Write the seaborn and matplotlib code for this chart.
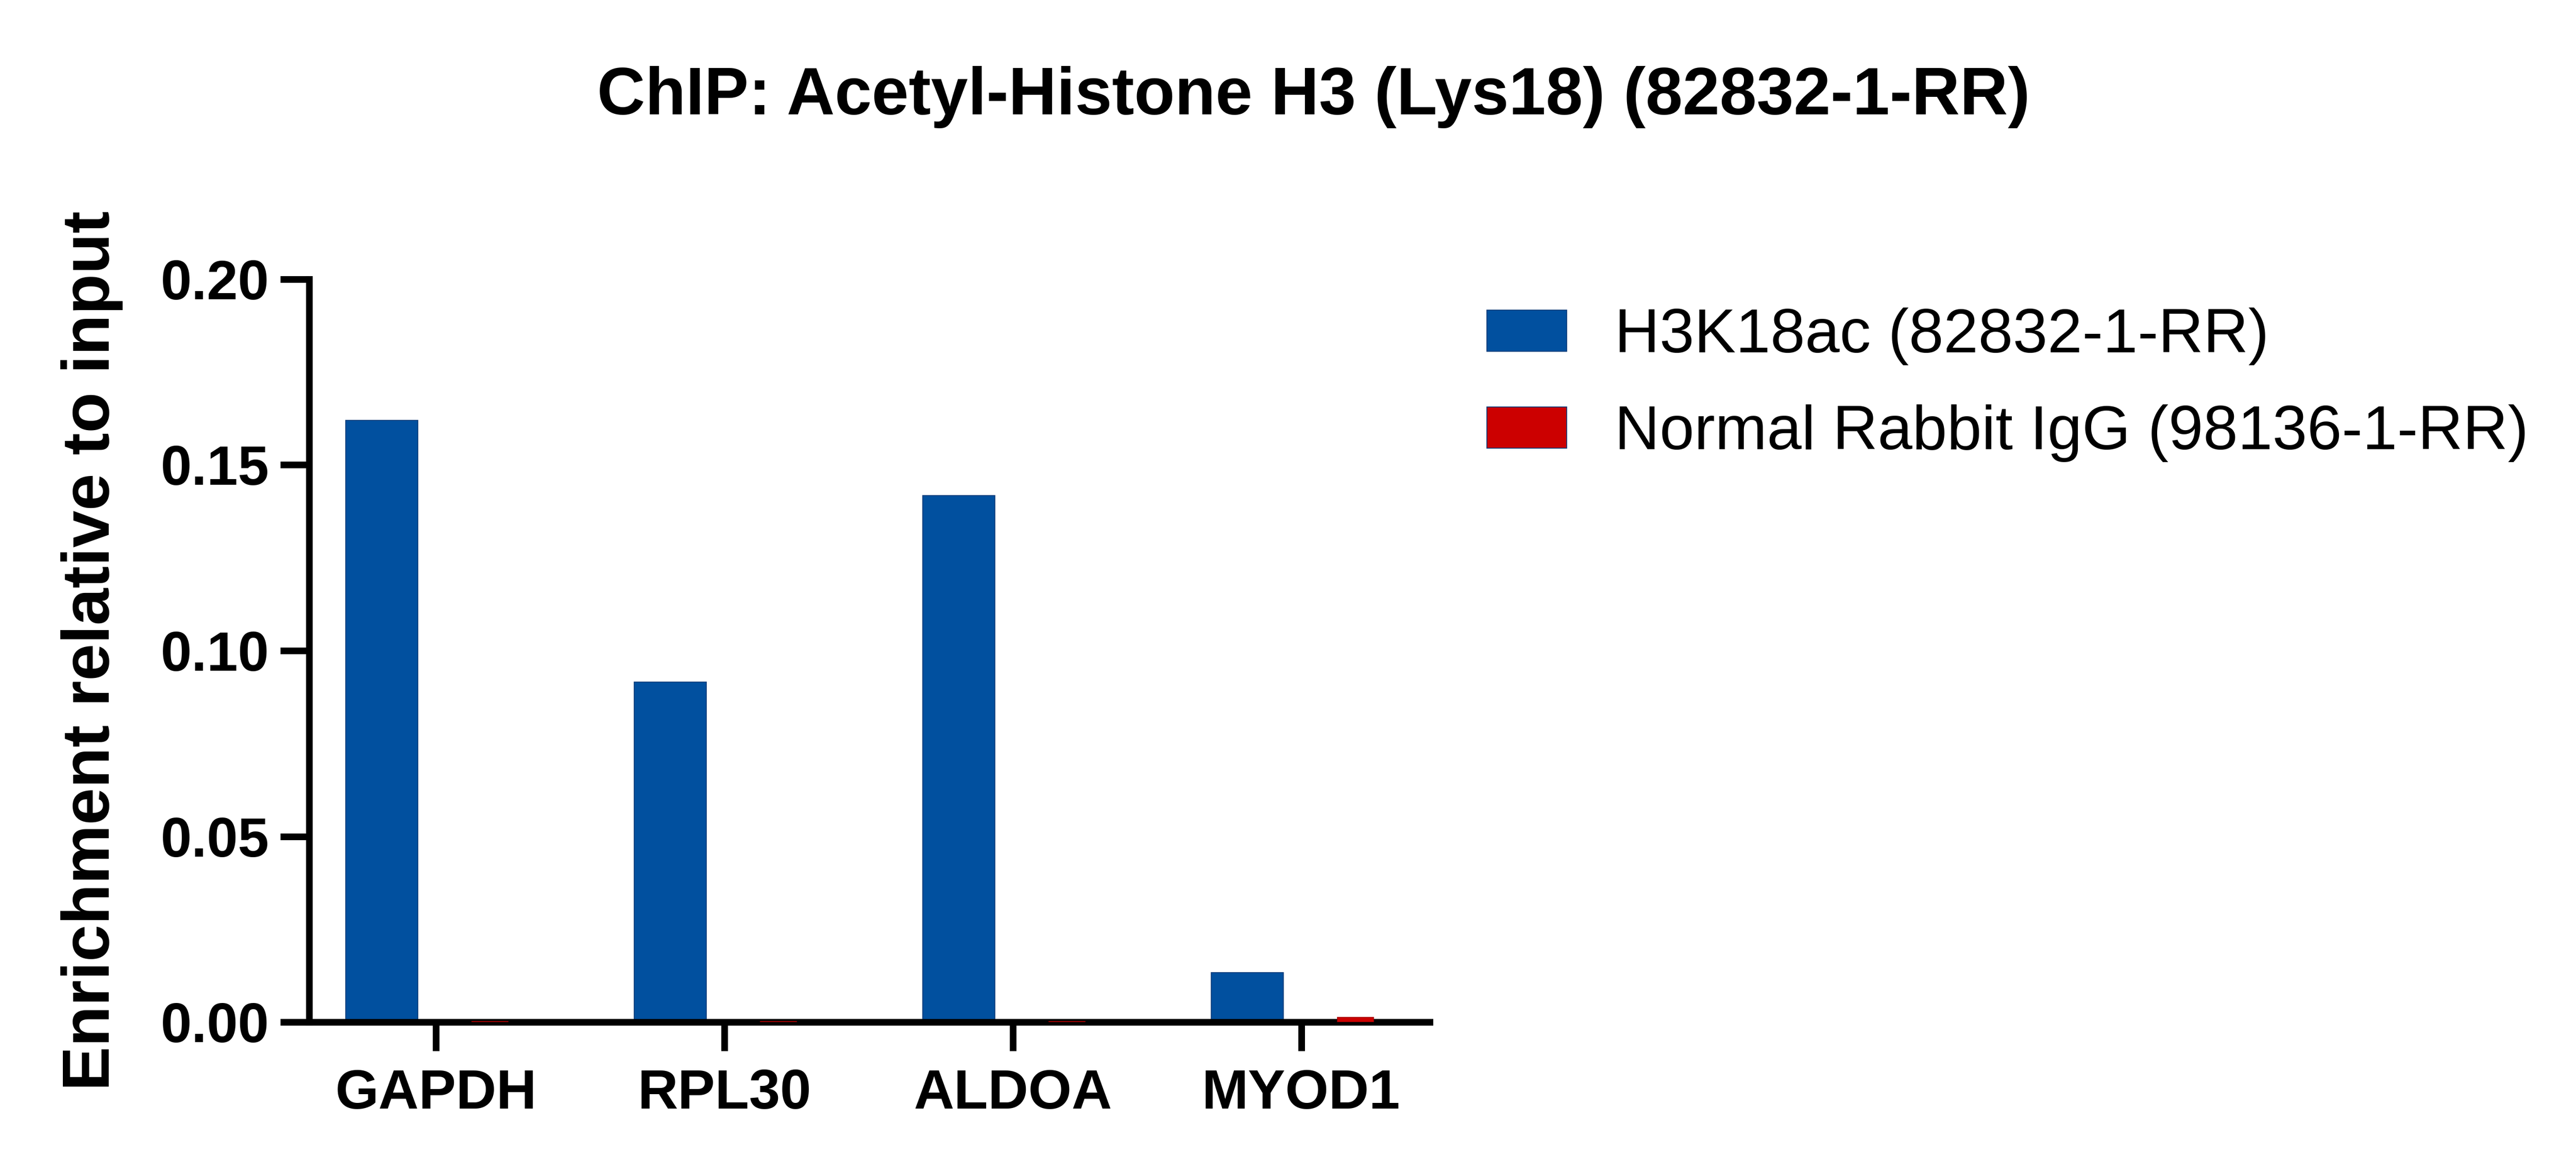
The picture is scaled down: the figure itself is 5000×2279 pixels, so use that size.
import pandas as pd
import numpy as np
import matplotlib
matplotlib.use("Agg")
import matplotlib.pyplot as plt
import seaborn as sns

# data
genes = ["GAPDH", "RPL30", "ALDOA", "MYOD1"]
h3k18ac = [0.162, 0.0916, 0.1418, 0.0133]
igg = [0.0002, 0.0002, 0.0002, 0.0012]
series = ["H3K18ac (82832-1-RR)", "Normal Rabbit IgG (98136-1-RR)"]
colors = ["#01509F", "#CC0000"]
yticks = [0.00, 0.05, 0.10, 0.15, 0.20]

df = pd.DataFrame({
    "gene": genes * 2,
    "value": h3k18ac + igg,
    "antibody": [series[0]] * len(genes) + [series[1]] * len(genes),
})

sns.set_style("ticks")
plt.rcParams["font.family"] = ["Liberation Sans", "DejaVu Sans"]
plt.rcParams["text.color"] = "black"
plt.rcParams["axes.labelcolor"] = "black"
plt.rcParams["axes.edgecolor"] = "black"
plt.rcParams["xtick.color"] = "black"
plt.rcParams["ytick.color"] = "black"

fig = plt.figure(figsize=(5000 / 300, 2279 / 300), dpi=300)
ax = fig.add_axes([0.12, 0.1294, 0.435, 0.6328])

sns.barplot(data=df, x="gene", y="value", hue="antibody", palette=colors,
            saturation=1, width=0.75, gap=0.333, errorbar=None, ax=ax,
            edgecolor="#0a3a78", linewidth=0.4)

# control bars are drawn narrower in the original
for bar in ax.containers[1]:
    cx = bar.get_x() + bar.get_width() / 2
    bar.set_width(0.125)
    bar.set_x(cx - 0.0625)
    bar.set_edgecolor("#aa0000")
    bar.set_zorder(3)

ax.set_xlim(-0.44, 3.445)
ax.set_ylim(0, 0.2)
ax.set_yticks(yticks)
ax.set_yticklabels([f"{t:.2f}" for t in yticks])

sns.despine(ax=ax)
for s in ["left", "bottom"]:
    ax.spines[s].set_linewidth(3.1)
    ax.spines[s].set_color("black")
ax.tick_params(axis="both", length=13.5, width=3.1, labelsize=26, color="black",
               labelcolor="black")
ax.tick_params(axis="y", pad=5)
ax.tick_params(axis="x", pad=8)
for lab in ax.get_xticklabels() + ax.get_yticklabels():
    lab.set_fontweight("bold")

ax.set_xlabel("")
ax.set_ylabel("Enrichment relative to input", fontsize=31, fontweight="bold",
              color="black")
ax.yaxis.set_label_coords(-0.166, 0.5)

handles, labels = ax.get_legend_handles_labels()
leg = ax.legend(handles, labels, loc="upper left", bbox_to_anchor=(0.5772, 0.738),
                bbox_transform=fig.transFigure, frameon=False, fontsize=29,
                handlelength=1.28, handleheight=0.64, handletextpad=0.77,
                labelspacing=0.63, borderpad=0, borderaxespad=0)
for t in leg.get_texts():
    t.set_color("black")

fig.text(0.51, 0.9026, "ChIP: Acetyl-Histone H3 (Lys18) (82832-1-RR)",
         ha="center", va="baseline", fontsize=31, fontweight="bold",
         color="black")

fig.savefig("out.png", dpi=300)
